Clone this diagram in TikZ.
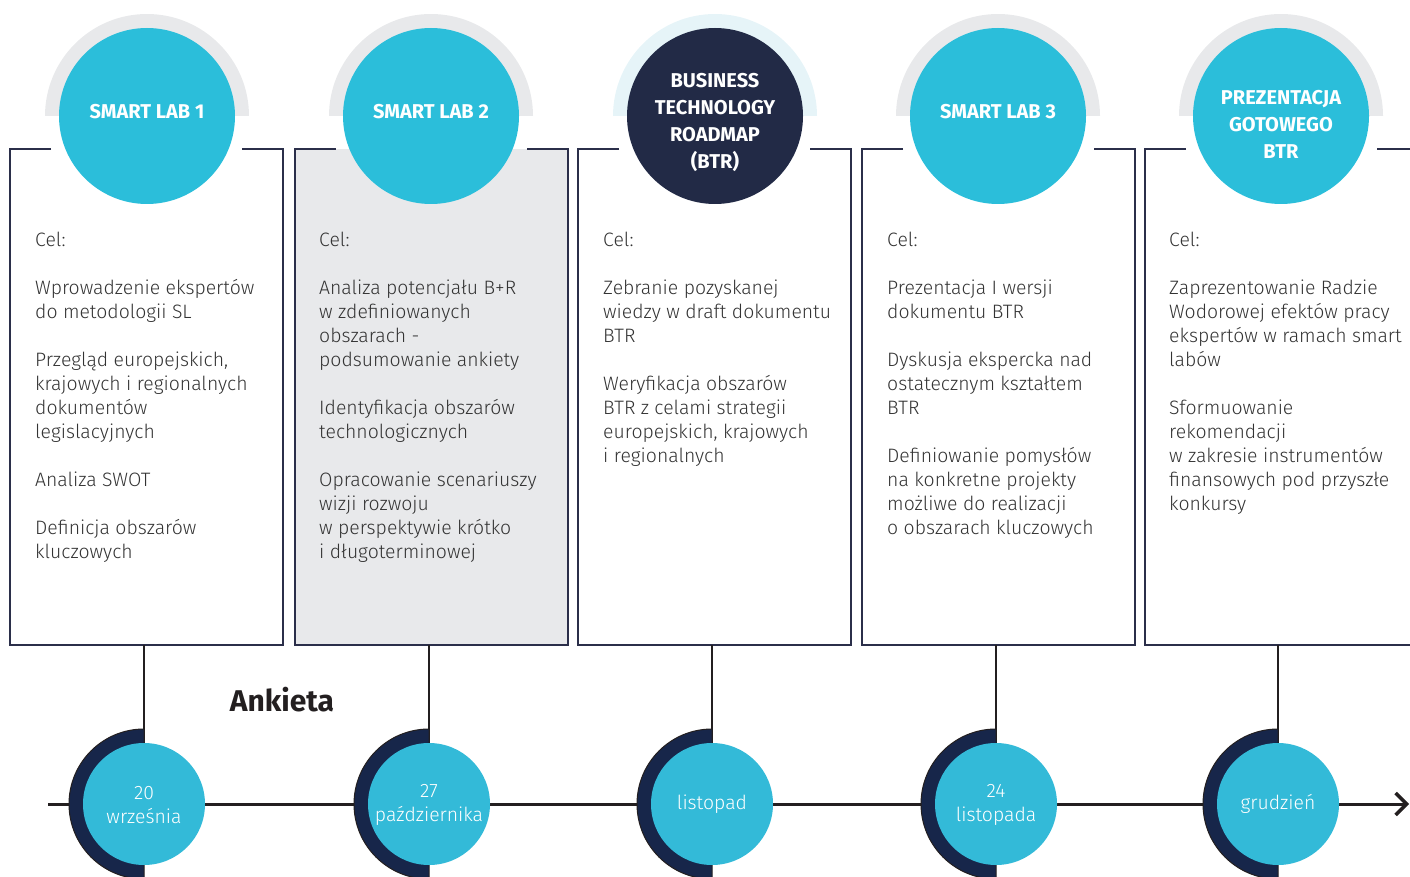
\documentclass[tikz,border=0pt]{standalone}
\usepackage{fontspec}
\setmainfont{Fira Sans}[UprightFont={* Light}, BoldFont={* Bold}]
\usetikzlibrary{arrows.meta,calc}
\definecolor{cyanc}{HTML}{2BBEDA}
\definecolor{cyanb}{HTML}{33BAD8}
\definecolor{navy}{HTML}{222A46}
\definecolor{navyb}{HTML}{17264A}
\definecolor{boxline}{HTML}{2B2F4A}
\definecolor{lgray}{HTML}{E8E9EB}
\definecolor{lblue}{HTML}{E6F4F8}
\definecolor{ink}{HTML}{231F20}
\definecolor{txt}{HTML}{333333}
\tikzset{
  boxnode/.style={minimum width=273pt, minimum height=496pt, inner sep=0pt, outer sep=0pt, draw=none},
  boxedge/.style={draw=boxline, line width=2pt},
  topcirc/.style={circle, fill=cyanc, minimum size=176pt, inner sep=0pt},
  btrcirc/.style={topcirc, fill=navy},
  toptext/.style={text=white, inner sep=0pt, font=\bfseries\fontsize{20}{27}\selectfont, align=center},
  datecirc/.style={circle, fill=cyanb, minimum size=122pt, inner sep=0pt},
  datetext/.style={text=white, inner sep=0pt, font=\fontsize{19.4}{24}\selectfont, align=center},
  bodytext/.style={anchor=base west, inner sep=0pt, text=txt},
  conn/.style={draw=ink, line width=2pt},
  timeline/.style={draw=ink, line width=3pt, -{Straight Barb[length=11pt,width=22pt,line width=3.5pt]}},
  halfnavy/.style={fill=navyb, draw=ink, line width=1pt}
}
\newcommand{\bodyfont}{\raggedright\fontsize{19.4}{24}\selectfont}
\begin{document}
\begin{tikzpicture}[x=1pt,y=-1pt]
\useasboundingbox (0,0) rectangle (1410,877);
\clip (0,0) rectangle (1410,877);
% boxes
\node[boxnode] (b1) at (146.5,397) {};
\node[boxnode, fill=lgray] (b2) at (431,397) {};
\node[boxnode] (b3) at (714.5,397) {};
\node[boxnode] (b4) at (998.5,397) {};
\node[boxnode] (b5) at (1281.5,397) {};
\foreach \b in {b1,b2,b3,b4,b5}{
  \draw[boxedge] ($(\b.north west)+(41,0)$) -- (\b.north west) -- (\b.south west) -- (\b.south east) -- (\b.north east) -- ($(\b.north east)+(-41,0)$);
}
% halos
\foreach \x in {147,431,998,1281}{
  \fill[lgray] (\x-102,116) arc[start angle=180,end angle=360,radius=102] -- cycle;
}
\fill[lblue] (715-102,116) arc[start angle=180,end angle=360,radius=102] -- cycle;
% top circles
\node[topcirc] (c1) at (147,116) {};
\node[topcirc] (c2) at (431,116) {};
\node[btrcirc] (c3) at (715,116) {};
\node[topcirc] (c4) at (998,116) {};
\node[topcirc] (c5) at (1281,116) {};
\node[toptext] (c1t) at (147,112) {SMART LAB 1};
\node[toptext] (c2t) at (431,112) {SMART LAB 2};
\node[toptext] (c3t) at (715,122) {BUSINESS\\TECHNOLOGY\\ROADMAP\\(BTR)};
\node[toptext] (c4t) at (998,112) {SMART LAB 3};
\node[toptext] (c5t) at (1281,124) {PREZENTACJA\\GOTOWEGO\\BTR};
% body texts
\node[bodytext] (t1) at (35,246.5) {\parbox[t]{250pt}{\bodyfont Cel:\\[24pt]
Wprowadzenie ekspertów\\do metodologii SL\\[24pt]
Przegląd europejskich,\\krajowych i regionalnych\\dokumentów\\legislacyjnych\\[24pt]
Analiza SWOT\\[24pt]
Definicja obszarów\\kluczowych}};
\node[bodytext] (t2) at (319,246.5) {\parbox[t]{250pt}{\bodyfont Cel:\\[24pt]
Analiza potencjału B+R\\w zdefiniowanych\\obszarach -\\podsumowanie ankiety\\[24pt]
Identyfikacja obszarów\\technologicznych\\[24pt]
Opracowanie scenariuszy\\wizji rozwoju\\w perspektywie krótko\\i długoterminowej}};
\node[bodytext] (t3) at (603,246.5) {\parbox[t]{250pt}{\bodyfont Cel:\\[24pt]
Zebranie pozyskanej\\wiedzy w draft dokumentu\\BTR\\[24pt]
Weryfikacja obszarów\\BTR z celami strategii\\europejskich, krajowych\\i regionalnych}};
\node[bodytext] (t4) at (887,246.5) {\parbox[t]{250pt}{\bodyfont Cel:\\[24pt]
Prezentacja I wersji\\dokumentu BTR\\[24pt]
Dyskusja ekspercka nad\\ostatecznym kształtem\\BTR\\[24pt]
Definiowanie pomysłów\\na konkretne projekty\\możliwe do realizacji\\o obszarach kluczowych}};
\node[bodytext] (t5) at (1169,246.5) {\parbox[t]{250pt}{\bodyfont Cel:\\[24pt]
Zaprezentowanie Radzie\\Wodorowej efektów pracy\\ekspertów w ramach smart\\labów\\[24pt]
Sformuowanie\\rekomendacji\\w zakresie instrumentów\\finansowych pod przyszłe\\konkursy}};
% timeline
\coordinate (tstart) at (48,804);
\coordinate (tend) at (1409,804);
\draw[timeline] (tstart) -- (tend);
% date positions
\coordinate (p1) at (144,804);
\coordinate (p2) at (429,804);
\coordinate (p3) at (712,804);
\coordinate (p4) at (996,804);
\coordinate (p5) at (1278,804);
\draw[conn] (p1 |- b1.south) -- (p1);
\draw[conn] (p2 |- b2.south) -- (p2);
\draw[conn] (p3 |- b3.south) -- (p3);
\draw[conn] (p4 |- b4.south) -- (p4);
\draw[conn] (p5 |- b5.south) -- (p5);
\foreach \p in {p1,p2,p3,p4,p5}{
  \fill[halfnavy] ($(\p)+(0,-75)$) arc[start angle=270,end angle=90,radius=75] -- cycle;
}
\node[datecirc] (d1) at (p1) {};
\node[datecirc] (d2) at (p2) {};
\node[datecirc] (d3) at (p3) {};
\node[datecirc] (d4) at (p4) {};
\node[datecirc] (d5) at (p5) {};
\node[datetext] (d1t) at (144,805) {20\\września};
\node[datetext] (d2t) at (429,805) {27\\października};
\node[datetext] (d3t) at (712,804) {listopad};
\node[datetext] (d4t) at (996,805) {24\\listopada};
\node[datetext] (d5t) at (1278,804) {grudzień};
\node[font=\bfseries\fontsize{30}{36}\selectfont, text=ink, inner sep=0pt] (ank) at (282,700) {Ankieta};
\end{tikzpicture}
\end{document}
